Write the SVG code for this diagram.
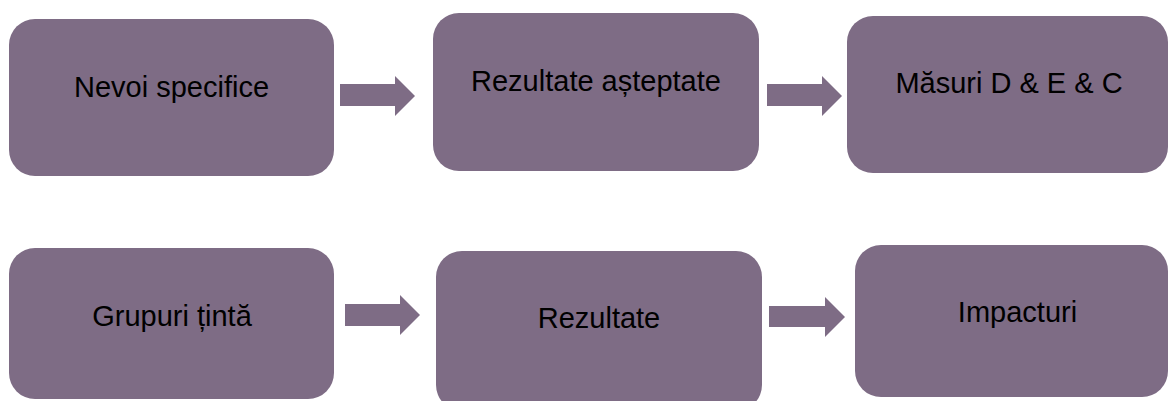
<svg xmlns="http://www.w3.org/2000/svg" width="1169" height="401" viewBox="0 0 1169 401">
<style>
.box{fill:#7E6C85;}
.lbl{font-family:"Liberation Sans",Arial,sans-serif;font-size:29px;fill:#000;text-anchor:middle;}
.arr{fill:#7E6C85;}
</style>
<rect width="1169" height="401" fill="#fff"/>
<g id="node-nevoi"><rect class="box" x="9" y="19" width="325" height="157" rx="26"/><text class="lbl" x="171.5" y="97">Nevoi specifice</text></g>
<g id="node-rezultate-asteptate"><rect class="box" x="433" y="13" width="326" height="158" rx="26"/><text class="lbl" x="596" y="91">Rezultate așteptate</text></g>
<g id="node-masuri"><rect class="box" x="847" y="16" width="321" height="157" rx="26"/><text class="lbl" x="1009" y="93">Măsuri D &amp; E &amp; C</text></g>
<g id="node-grupuri"><rect class="box" x="9" y="248" width="325" height="151" rx="26"/><text class="lbl" x="172" y="326">Grupuri țintă</text></g>
<g id="node-rezultate"><rect class="box" x="436" y="251" width="326" height="160" rx="26"/><text class="lbl" x="599" y="328">Rezultate</text></g>
<g id="node-impacturi"><rect class="box" x="855" y="245" width="313" height="152" rx="26"/><text class="lbl" x="1017.5" y="322">Impacturi</text></g>
<g id="connectors">
<polygon class="arr" points="340,84 395,84 395,76 415,96 395,116 395,106 340,106"/>
<polygon class="arr" points="767,84 822,84 822,76 842,96 822,116 822,106 767,106"/>
<polygon class="arr" points="345,304 400,304 400,295 420,315 400,335 400,326 345,326"/>
<polygon class="arr" points="769,306 825,306 825,297 845,317 825,337 825,327 769,327"/>
</g>
</svg>
